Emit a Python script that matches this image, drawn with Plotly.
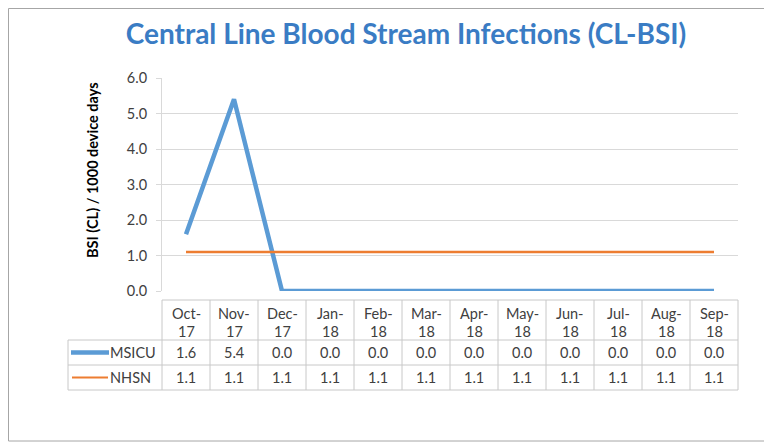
import plotly.graph_objects as go

months = ["Oct-17", "Nov-17", "Dec-17", "Jan-18", "Feb-18", "Mar-18",
          "Apr-18", "May-18", "Jun-18", "Jul-18", "Aug-18", "Sep-18"]
msicu = [1.6, 5.4, 0.0, 0.0, 0.0, 0.0, 0.0, 0.0, 0.0, 0.0, 0.0, 0.0]
nhsn = [1.1, 1.1, 1.1, 1.1, 1.1, 1.1, 1.1, 1.1, 1.1, 1.1, 1.1, 1.1]
series_names = ["MSICU", "NHSN"]
y_ticks = [0, 1, 2, 3, 4, 5, 6]

OFF = 8  # page body margin
W, H = 772 - OFF, 444 - OFF
# plot area in page pixels
PL, PR, PT, PB = 162, 738, 78, 291
BLUE = "#5b9bd5"
ORANGE = "#ed7d31"
GRID = "#d9d9d9"
TXT = "#404040"
FONT = "Lato"


def px(xp):
    return (xp - PL) / (PR - PL)


def py(yp):
    return (PB - yp) / (PB - PT)


fig = go.Figure()
fig.add_trace(go.Scatter(x=months, y=msicu, mode="lines", name=series_names[0],
                         line=dict(color=BLUE, width=4.5), showlegend=False))
fig.add_trace(go.Scatter(x=months, y=nhsn, mode="lines", name=series_names[1],
                         line=dict(color=ORANGE, width=2.5), showlegend=False))

shapes = []
ann = []
line_style = dict(color="#c8c8c8", width=1)
tfont = dict(family=FONT, size=14.5, color=TXT)

row_y = [300, 340, 365, 390]
shapes.append(dict(type="line", xref="paper", yref="paper", x0=0, x1=1,
                   y0=py(300), y1=py(300), line=line_style))
for yy in row_y[1:]:
    shapes.append(dict(type="line", xref="paper", yref="paper", x0=px(68), x1=1,
                       y0=py(yy), y1=py(yy), line=line_style))
n = len(months)
for i in range(n + 1):
    shapes.append(dict(type="line", xref="paper", yref="paper", x0=i / n, x1=i / n,
                       y0=py(300), y1=py(390), line=line_style))
shapes.append(dict(type="line", xref="paper", yref="paper", x0=px(68), x1=px(68),
                   y0=py(340), y1=py(390), line=line_style))

for i, m in enumerate(months):
    a, b = m.split("-")
    ann.append(dict(x=m, xref="x", y=py(313), yref="paper", text=f"{a}-",
                    showarrow=False, font=tfont, xanchor="center", yanchor="middle"))
    ann.append(dict(x=m, xref="x", y=py(331), yref="paper", text=b,
                    showarrow=False, font=tfont, xanchor="center", yanchor="middle"))
    ann.append(dict(x=m, xref="x", y=py(352.5), yref="paper", text=f"{msicu[i]:.1f}",
                    showarrow=False, font=tfont, xanchor="center", yanchor="middle"))
    ann.append(dict(x=m, xref="x", y=py(377.5), yref="paper", text=f"{nhsn[i]:.1f}",
                    showarrow=False, font=tfont, xanchor="center", yanchor="middle"))

shapes.append(dict(type="line", xref="paper", yref="paper", x0=px(71), x1=px(109),
                   y0=py(352.5), y1=py(352.5), line=dict(color=BLUE, width=4.5)))
shapes.append(dict(type="line", xref="paper", yref="paper", x0=px(72), x1=px(108),
                   y0=py(377.5), y1=py(377.5), line=dict(color=ORANGE, width=2)))
ann.append(dict(x=px(108), xref="paper", y=py(352.5), yref="paper", text=series_names[0],
                showarrow=False, font=tfont, xanchor="left", yanchor="middle"))
ann.append(dict(x=px(108), xref="paper", y=py(377.5), yref="paper", text=series_names[1],
                showarrow=False, font=tfont, xanchor="left", yanchor="middle"))

# outer border
shapes.append(dict(type="rect", xref="paper", yref="paper", x0=px(8.5), x1=px(771),
                   y0=py(441), y1=py(8.5), line=dict(color="#a6a6a6", width=1),
                   layer="below"))

ann.append(dict(x=px(92), xref="paper", y=py(170), yref="paper",
                text="<b>BSI (CL) / 1000 device days</b>", textangle=-90,
                showarrow=False, font=dict(family=FONT, size=14.5, color="#000000"),
                xanchor="center", yanchor="middle"))

fig.update_layout(
    width=W, height=H,
    margin=dict(l=PL - OFF, r=772 - PR, t=PT - OFF, b=444 - PB),
    paper_bgcolor="white", plot_bgcolor="white",
    title=dict(text="<b>Central Line Blood Stream Infections (CL-BSI)</b>",
               xref="container", yref="container",
               x=(406 - OFF) / W, xanchor="center",
               y=1 - (34 - OFF) / H, yanchor="middle",
               font=dict(family=FONT, size=28, color="#3a7cc4")),
    xaxis=dict(type="category", range=[-0.5, n - 0.5], showticklabels=False,
               showgrid=False, zeroline=False, showline=False, ticks=""),
    yaxis=dict(range=[0, 6], tickvals=y_ticks, tickformat=".1f",
               showgrid=True, gridcolor=GRID, gridwidth=1,
               zeroline=False, showline=True, linecolor=GRID, linewidth=1,
               ticks="outside", ticklen=5, tickcolor=GRID, ticklabelstandoff=6,
               tickfont=dict(family=FONT, size=14.5, color=TXT)),
    shapes=shapes, annotations=ann,
)

fig.write_html("out.html")
